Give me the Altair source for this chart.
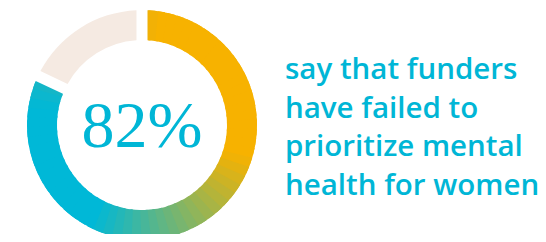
import math
import altair as alt
import pandas as pd

# data
labels = ["Funders failed to prioritize", "Other"]
values = [82, 18]
order = [0, 1]
big_label = "82%"
caption_lines = ["say that funders", "have failed to", "prioritize mental", "health for women"]

# colour ramp along the ring (position in % of the circle -> colour)
ramp_pos = [0, 3, 30, 58, 78, 82]
ramp_col = ["#E8AF10", "#F7B200", "#F7B200", "#00B8D7", "#00B8D7", "#18B6C4"]

df = pd.DataFrame({"label": labels, "value": values, "order": order})

CX, CY = 134, 117
R_OUT, R_IN = 115, 85
PAD = 0.077
TEAL = "#00B6D6"
N = 60          # rendering pieces for the conic gradient
OV = 1.25       # overlap between pieces (in % of circle)

theta_scale = alt.Scale(domain=[0, 100], range=[0, 2 * math.pi])

base = (
    alt.Chart(df)
    .transform_window(cum="sum(value)", frame=[None, 0], sort=[{"field": "order"}])
    .transform_calculate(start="datum.cum - datum.value")
)

arc_main = (
    base.transform_filter("datum.order == 0")
    .transform_calculate(k=f"sequence(0, {N})")
    .transform_flatten(["k"])
    .transform_calculate(
        a0=f"max(datum.start, datum.start + datum.k * datum.value / {N} - {OV})",
        a1=f"min(datum.cum, datum.start + (datum.k + 1) * datum.value / {N} + {OV})",
        mid=f"datum.start + (datum.k + 0.5) * datum.value / {N}",
    )
    .mark_arc(innerRadius=R_IN, outerRadius=R_OUT, padAngle=PAD, stroke=None)
    .encode(
        theta=alt.Theta("a0:Q", scale=theta_scale),
        theta2="a1:Q",
        color=alt.Color("mid:Q", scale=alt.Scale(domain=ramp_pos, range=ramp_col, interpolate="rgb"), legend=None),
        order=alt.Order("k:Q"),
        x=alt.value(CX),
        y=alt.value(CY),
    )
)

arc_rest = (
    base.transform_filter("datum.order == 1")
    .mark_arc(innerRadius=R_IN, outerRadius=R_OUT, padAngle=PAD, fill="#F5EAE2", stroke=None)
    .encode(
        theta=alt.Theta("start:Q", scale=theta_scale),
        theta2="cum:Q",
        x=alt.value(CX),
        y=alt.value(CY),
    )
)

center_text = (
    alt.Chart(pd.DataFrame({"t": [big_label]}))
    .mark_text(font="Liberation Serif", fontSize=66, color=TEAL, align="center", baseline="alphabetic")
    .encode(text="t:N", x=alt.value(CX), y=alt.value(139))
)

caption = (
    alt.Chart(pd.DataFrame({"t": [0]}))
    .mark_text(
        font="Open Sans", fontSize=29.5, fontWeight=600, color=TEAL,
        align="left", baseline="alphabetic", lineHeight=38.7,
    )
    .encode(text=alt.value(caption_lines), x=alt.value(277), y=alt.value(71))
)

chart = (
    alt.layer(arc_main, arc_rest, center_text, caption)
    .properties(width=530, height=226, padding=0, autosize=alt.AutoSizeParams(type="none"))
    .configure_view(stroke=None)
)

chart.save("out.html", embed_options={"renderer": "svg", "actions": False})
